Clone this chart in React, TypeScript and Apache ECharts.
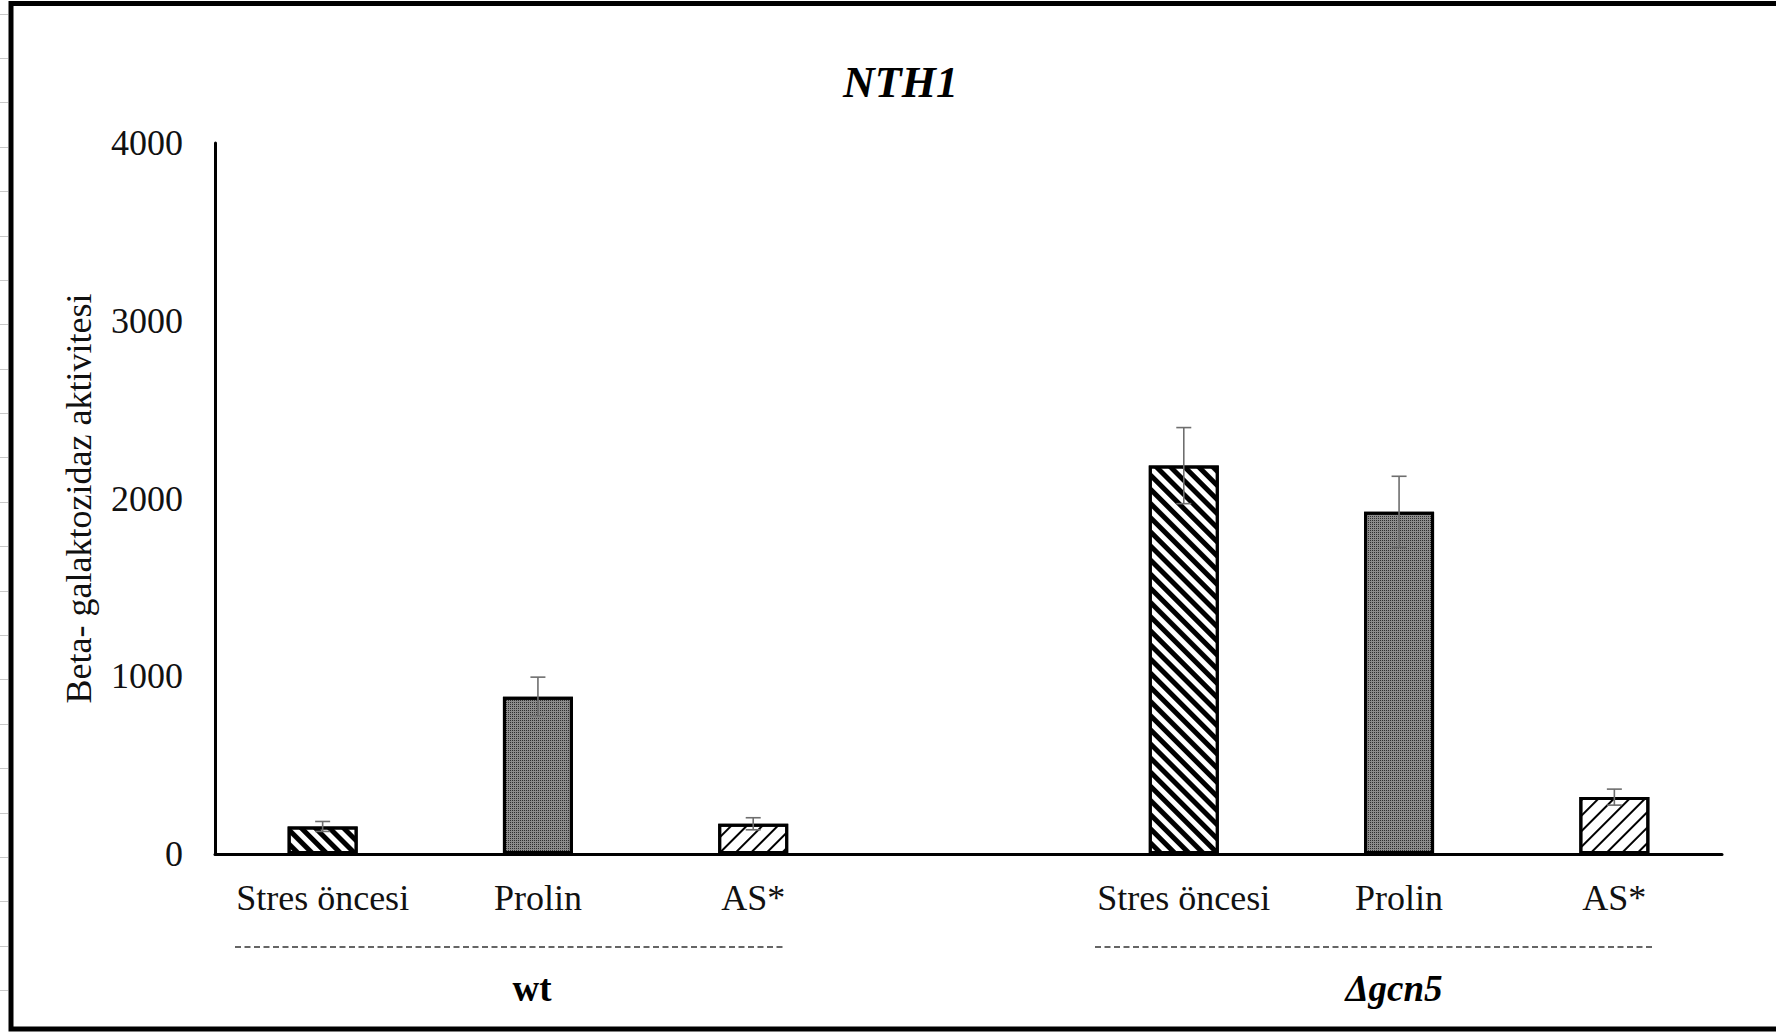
import React, { useEffect, useRef } from "react";
import * as echarts from "echarts";

// ---- data ----
const categories = ["Stres öncesi", "Prolin", "AS*", "", "Stres öncesi", "Prolin", "AS*"];
const treatmentKinds = ["stress", "proline", "as", "none", "stress", "proline", "as"];
const means: (number | null)[] = [155, 885, 170, null, 2185, 1925, 320];
const errors: (number | null)[] = [28, 110, 34, null, 214, 200, 45];
const groupLabels = ["wt", "Δgcn5"];
const yMin = 0;
const yMax = 4000;
const yInterval = 1000;
const chartTitle = "NTH1";
const yAxisTitle = "Beta- galaktozidaz aktivitesi";

const FONT = "'Liberation Serif', 'Times New Roman', serif";

const decals: Record<string, any> = {
  stress: {
    symbol: "rect",
    symbolSize: 1,
    dashArrayX: [1, 0],
    dashArrayY: [5, 5],
    rotation: Math.PI / 4,
    color: "#000",
    backgroundColor: "#fff",
  },
  proline: {
    symbol: "rect",
    symbolSize: 1,
    dashArrayX: [1, 1],
    dashArrayY: [1, 1],
    color: "#2e2e2e",
    backgroundColor: "#8c8c8c",
  },
  as: {
    symbol: "rect",
    symbolSize: 1,
    dashArrayX: [1, 0],
    dashArrayY: [1.5, 9],
    rotation: -Math.PI / 4,
    color: "#000",
    backgroundColor: "#fff",
  },
};

export default function App() {
  const ref = useRef<HTMLDivElement>(null);

  useEffect(() => {
    document.body.style.margin = "0";
    if (!ref.current) return;
    const chart = echarts.init(ref.current, null, { renderer: "svg" });

    const barData = means.map((v, i) => {
      if (v == null) return { value: "-" };
      const kind = treatmentKinds[i];
      return {
        value: v,
        itemStyle: {
          color: kind === "proline" ? "#8c8c8c" : "#fff",
          borderColor: "#000",
          borderWidth: 3,
          decal: decals[kind],
        },
      };
    });

    const errData = means
      .map((v, i) => (v == null ? null : [i, v - (errors[i] as number), v + (errors[i] as number)]))
      .filter((d) => d != null);

    // left ruler marks (page decoration)
    const rulerMarks: any[] = [];
    for (let y = 13.5; y < 1032; y += 44.4) {
      rulerMarks.push({
        type: "line",
        silent: true,
        shape: { x1: 0, y1: Math.round(y) + 0.5, x2: 8, y2: Math.round(y) + 0.5 },
        style: { stroke: "#c8c8c8", lineWidth: 1 },
      });
    }

    const option: any = {
      animation: false,
      backgroundColor: "#fff",
      textStyle: { fontFamily: FONT, color: "#000" },
      title: {
        text: chartTitle,
        left: 843,
        top: 60,
        padding: 0,
        textStyle: {
          fontFamily: FONT,
          fontSize: 44,
          fontWeight: "bold",
          fontStyle: "italic",
          color: "#000",
        },
      },
      grid: { left: 215, right: 54, top: 143, bottom: 178 },
      xAxis: {
        type: "category",
        data: categories,
        axisLine: { show: true, lineStyle: { color: "#000", width: 3 } },
        axisTick: { show: false },
        axisLabel: {
          fontFamily: FONT,
          fontSize: 36,
          color: "#111",
          margin: 26,
          interval: 0,
        },
        splitLine: { show: false },
      },
      yAxis: {
        type: "value",
        min: yMin,
        max: yMax,
        interval: yInterval,
        name: yAxisTitle,
        nameLocation: "middle",
        nameRotate: 90,
        nameGap: 118,
        nameTextStyle: { fontFamily: FONT, fontSize: 36, color: "#111" },
        axisLine: { show: true, lineStyle: { color: "#000", width: 3 } },
        axisTick: { show: false },
        splitLine: { show: false },
        axisLabel: {
          fontFamily: FONT,
          fontSize: 36,
          color: "#111",
          margin: 32,
          formatter: (v: number) => String(v),
        },
      },
      series: [
        {
          type: "bar",
          data: barData,
          barWidth: 70,
          z: 2,
        },
        {
          type: "custom",
          data: errData,
          z: 5,
          renderItem: (params: any, api: any) => {
            const idx = api.value(0);
            const lo = api.coord([idx, api.value(1)]);
            const hi = api.coord([idx, api.value(2)]);
            const cap = 7.5;
            const st = { stroke: "#6e6e6e", lineWidth: 1.6 };
            return {
              type: "group",
              children: [
                { type: "line", shape: { x1: hi[0], y1: hi[1], x2: lo[0], y2: lo[1] }, style: st },
                { type: "line", shape: { x1: hi[0] - cap, y1: hi[1], x2: hi[0] + cap, y2: hi[1] }, style: st },
                { type: "line", shape: { x1: lo[0] - cap, y1: lo[1], x2: lo[0] + cap, y2: lo[1] }, style: st },
              ],
            };
          },
        },
      ],
      graphic: [
        ...rulerMarks,
        // page frame (left, top, bottom)
        {
          type: "polyline",
          silent: true,
          shape: { points: [[1776, 3.5], [11, 3.5], [11, 1029], [1776, 1029]] },
          style: { stroke: "#000", lineWidth: 5, fill: null },
        },
        // group separators
        {
          type: "line",
          shape: { x1: 235, y1: 947, x2: 784, y2: 947 },
          style: { stroke: "#333", lineWidth: 1.5, lineDash: [6, 3.5] },
        },
        {
          type: "line",
          shape: { x1: 1095, y1: 947, x2: 1653, y2: 947 },
          style: { stroke: "#333", lineWidth: 1.5, lineDash: [6, 3.5] },
        },
        {
          type: "text",
          x: 532,
          y: 988,
          style: {
            text: groupLabels[0],
            fontFamily: FONT,
            fontSize: 37,
            fontWeight: "bold",
            fill: "#000",
            align: "center",
            verticalAlign: "middle",
          },
        },
        {
          type: "text",
          x: 1394,
          y: 988,
          style: {
            text: groupLabels[1],
            fontFamily: FONT,
            fontSize: 37,
            fontWeight: "bold",
            fontStyle: "italic",
            fill: "#000",
            align: "center",
            verticalAlign: "middle",
          },
        },
      ],
    };

    chart.setOption(option);
    return () => chart.dispose();
  }, []);

  return <div ref={ref} style={{ width: 1776, height: 1032 }} />;
}
